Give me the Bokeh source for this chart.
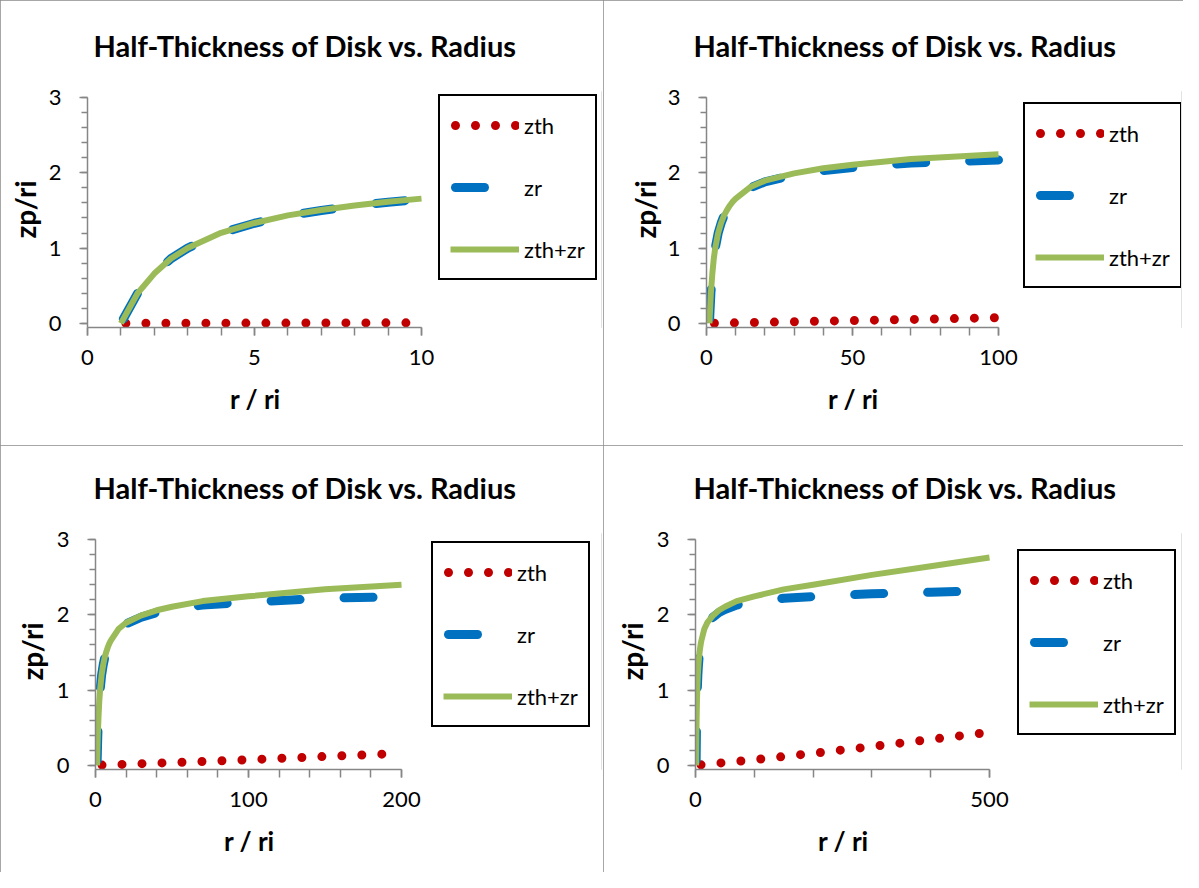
from bokeh.plotting import figure
from bokeh.layouts import column, row
from bokeh.models import Range1d, FixedTicker, Legend, LegendItem, ColumnDataSource, Title
from bokeh.embed import file_html
from bokeh.resources import INLINE

# ---- data ----
r_ri = [1, 1.5, 2, 2.5, 3, 4, 5, 6, 7, 8, 9, 10, 15, 20, 30, 40, 50, 70,
        100, 150, 200, 300, 400, 500]
zth = [0, 0.0005, 0.001, 0.0015, 0.002, 0.003, 0.0035, 0.004, 0.005, 0.006,
       0.0065, 0.007, 0.011, 0.015, 0.022, 0.03, 0.037, 0.052,
       0.075, 0.118, 0.16, 0.25, 0.345, 0.44]
zr = [0, 0.40, 0.66, 0.86, 1.00, 1.20, 1.33, 1.43, 1.50, 1.56, 1.61, 1.65,
      1.80, 1.88, 1.97, 2.03, 2.07, 2.13, 2.17, 2.22, 2.24, 2.28, 2.30, 2.32]
zth_plus_zr = [a + b for a, b in zip(zth, zr)]

series_names = ["zth", "zr", "zth+zr"]
title_text = "Half-Thickness of Disk vs. Radius"
x_title = "r / ri"
y_title = "zp/ri"

panel_x_max = [10, 100, 200, 500]
panel_x_major = [[0, 5, 10], [0, 50, 100], [0, 100, 200], [0, 500]]
panel_x_minor_step = [1, 10, 20, 100]
y_major = [0, 1, 2, 3]
y_minor_step = 0.2

# ---- layout / style ----
FONT = "Lato"
RED, BLUE, GREEN, AXIS_GRAY = "#C00000", "#0070C0", "#9BBB59", "#868686"
TITLE_W = 424      # rendered width of the title text (px)
XLABEL_W = 49      # rendered width of the x axis title (px)
Y_LO, Y_HI = -0.055, 3.08   # frame range (a little room round the 0..3 axis)

# per panel: figure size, left border, top border, frame height, axis length (px),
# legend position in frame, title centre (px), y axis label standoff
layouts = [
    dict(w=603, h=445, l=87, t=91, fh=236, axis_px=334, leg=(351, 47), tc=305, ystand=4),
    dict(w=580, h=445, l=103, t=91, fh=236, axis_px=292, leg=(317, 39), tc=302, ystand=3),
    dict(w=603, h=427, l=95, t=88, fh=236, axis_px=306, leg=(336, 42), tc=305, ystand=5),
    dict(w=580, h=427, l=92, t=88, fh=236, axis_px=294, leg=(322, 34), tc=302, ystand=5),
]


def make_panel(i):
    lay = layouts[i]
    xmax = panel_x_max[i]
    keep = [k for k, rv in enumerate(r_ri) if rv <= xmax]
    src = ColumnDataSource(dict(r=[r_ri[k] for k in keep], zth=[zth[k] for k in keep],
                                zr=[zr[k] for k in keep], tot=[zth_plus_zr[k] for k in keep]))

    fw = lay["w"] - lay["l"] - 2          # plot frame spans axis + legend area
    x_end = xmax * fw / lay["axis_px"]
    p = figure(width=lay["w"], height=lay["h"], output_backend="svg", toolbar_location=None,
               x_range=Range1d(0, x_end), y_range=Range1d(Y_LO, Y_HI),
               min_border_left=lay["l"], min_border_right=2,
               min_border_top=lay["t"], min_border_bottom=lay["h"] - lay["t"] - lay["fh"],
               background_fill_color="white", border_fill_color="white")
    p.outline_line_color = None
    p.xgrid.visible = False
    p.ygrid.visible = False
    p.styles = {"outline": "2px solid #8a8a8a", "outline-offset": "-2px"}

    # chart title (outermost) and a spacer between it and the plot area
    p.title.text = title_text
    p.title.text_font = FONT
    p.title.text_font_size = "29px"
    p.title.text_font_style = "bold"
    p.title.text_color = "black"
    p.title.align = "left"
    p.title.offset = lay["tc"] - lay["l"] - TITLE_W / 2
    p.title.standoff = 10
    p.add_layout(Title(text=" ", text_font=FONT, text_font_size="18px", standoff=0), "above")

    r1 = p.line("r", "zth", source=src, line_color=RED, line_width=9,
                line_dash="0 20", line_dash_offset=15, line_cap="round")
    r2 = p.line("r", "zr", source=src, line_color=BLUE, line_width=9,
                line_dash="29 44", line_dash_offset=68, line_cap="round")
    r3 = p.line("r", "tot", source=src, line_color=GREEN, line_width=6,
                line_cap="butt", line_join="round")

    step = panel_x_minor_step[i]
    minor_x = [k * step for k in range(int(round(xmax / step)) + 1)]
    minor_y = [round(k * y_minor_step, 2) for k in range(int(round(3 / y_minor_step)) + 1)]

    for ax in (p.xaxis[0], p.yaxis[0]):
        ax.axis_line_color = AXIS_GRAY
        ax.axis_line_width = 1.5
        ax.major_tick_line_color = AXIS_GRAY
        ax.minor_tick_line_color = AXIS_GRAY
        ax.major_tick_line_width = 1.5
        ax.minor_tick_line_width = 1.5
        ax.major_tick_in = 0
        ax.minor_tick_in = 0
        ax.major_tick_out = 8
        ax.major_label_text_font = FONT
        ax.major_label_text_font_size = "22px"
        ax.major_label_text_color = "black"

    xa = p.xaxis[0]
    xa.ticker = FixedTicker(ticks=panel_x_major[i], minor_ticks=minor_x)
    xa.bounds = (0, xmax)
    xa.minor_tick_out = 8
    xa.major_label_standoff = 14
    # spacer, then the x axis title centred under the axis itself
    p.add_layout(Title(text=" ", text_font=FONT, text_font_size="9px", standoff=0), "below")
    p.add_layout(Title(text=x_title, text_font=FONT, text_font_size="26px",
                       text_font_style="bold", text_color="black", align="left",
                       offset=lay["axis_px"] / 2 - XLABEL_W / 2, standoff=0), "below")

    ya = p.yaxis[0]
    ya.ticker = FixedTicker(ticks=y_major, minor_ticks=minor_y)
    ya.bounds = (Y_LO, 3)
    ya.minor_tick_out = 6
    ya.major_label_standoff = 18
    ya.axis_label = y_title
    ya.axis_label_standoff = lay["ystand"]
    ya.axis_label_text_font = FONT
    ya.axis_label_text_font_size = "28px"
    ya.axis_label_text_font_style = "bold"
    ya.axis_label_text_color = "black"

    legend = Legend(items=[LegendItem(label=series_names[0], renderers=[r1]),
                           LegendItem(label=series_names[1], renderers=[r2]),
                           LegendItem(label=series_names[2], renderers=[r3])],
                    location=lay["leg"], margin=0, padding=10, spacing=24,
                    glyph_width=69, glyph_height=38, label_height=38,
                    label_standoff=5, label_text_font=FONT,
                    label_text_font_size="22px", label_text_color="black",
                    border_line_color="black", border_line_width=2, border_line_alpha=1.0,
                    background_fill_color="white", background_fill_alpha=1.0)
    p.add_layout(legend, "center")
    return p


panels = [make_panel(i) for i in range(4)]
layout = column(row(panels[0], panels[1]), row(panels[2], panels[3]))

open("out.html", "w").write(file_html(layout, INLINE))
